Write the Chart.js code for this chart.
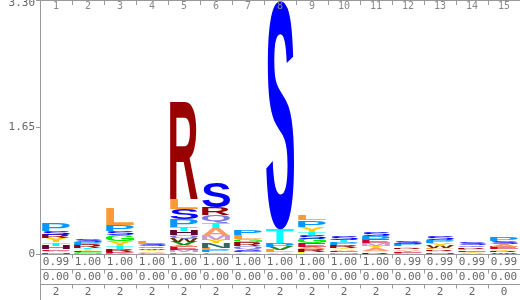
<!DOCTYPE html>
<html><head><meta charset="utf-8">
<script src="https://cdn.jsdelivr.net/npm/chart.js@4/dist/chart.umd.min.js"></script>
<style>html,body{margin:0;padding:0;background:#fff}#wrap{width:520px;height:300px}</style>
</head><body><div id="wrap"><canvas id="c" width="520" height="300"></canvas></div>
<script>
const positions = ['1','2','3','4','5','6','7','8','9','10','11','12','13','14','15'];
const yTicks = [0, 1.65, 3.30];
const yTickLabels = ['0', '1.65', '3.30'];
const row1 = ['0.99','1.00','1.00','1.00','1.00','1.00','1.00','1.00','1.00','1.00','1.00','0.99','0.99','0.99','0.99'];
const row2 = ['0.00','0.00','0.00','0.00','0.00','0.00','0.00','0.00','0.00','0.00','0.00','0.00','0.00','0.00','0.00'];
const row3 = ['2','2','2','2','2','2','2','2','2','2','2','2','2','2','0'];
// letters per position, bottom to top
const letters = [
  'NAEHTYRSP',
  'MGEYTRPS',
  'KERTYGSPL',
  'GAYWQSL',
  'KMEAVWQHTPSLR',
  'GPLNYMATQRS',
  'AESQRGLP',
  'ALVPTS',
  'CRAEGSTYPL',
  'MEAYRPTS',
  'RCAYMEPS',
  'LETARYPS',
  'NARLWYPS',
  'AYELRQS',
  'WRYEASP'
];
const heights = [
  [0.02,0.02,0.02,0.05,0.04,0.06,0.04,0.05,0.10],
  [0.01,0.015,0.015,0.02,0.02,0.04,0.04,0.04],
  [0.015,0.015,0.03,0.04,0.07,0.08,0.05,0.08,0.22],
  [0.015,0.02,0.02,0.02,0.025,0.03,0.03],
  [0.02,0.03,0.04,0.025,0.04,0.04,0.05,0.06,0.05,0.10,0.13,0.13,1.26],
  [0.02,0.03,0.03,0.06,0.04,0.06,0.10,0.07,0.10,0.10,0.32],
  [0.02,0.02,0.02,0.04,0.05,0.04,0.05,0.06],
  [0.02,0.03,0.04,0.05,0.18,2.97],
  [0.03,0.03,0.03,0.05,0.06,0.05,0.03,0.07,0.09,0.065],
  [0.02,0.02,0.02,0.02,0.03,0.04,0.03,0.05],
  [0.02,0.02,0.04,0.03,0.03,0.04,0.05,0.05],
  [0.01,0.015,0.015,0.02,0.02,0.02,0.03,0.04],
  [0.02,0.02,0.02,0.02,0.03,0.03,0.04,0.05],
  [0.015,0.015,0.02,0.02,0.02,0.03,0.04],
  [0.02,0.02,0.02,0.03,0.04,0.04,0.05]
];
const letterColors = {
  S:'#0000ff', R:'#990000', L:'#ff9933', P:'#0099ff', T:'#00ffff', H:'#660033',
  Q:'#7777dd', A:'#ff9966', M:'#cc99cc', Y:'#ffcc00', G:'#00ee00', N:'#336666',
  V:'#228822', W:'#663300', E:'#cc0033', C:'#ffff00', K:'#dd6677', D:'#ff0000'
};
const totals = heights.map(h => h.reduce((a, b) => a + b, 0));

function drawGlyph(ctx, ch, left, top, w, h, color) {
  if (h <= 0 || w <= 0) return;
  ctx.save();
  ctx.font = 'bold 100px "Liberation Sans"';
  const m = ctx.measureText(ch);
  const gw = m.actualBoundingBoxLeft + m.actualBoundingBoxRight;
  const gh = m.actualBoundingBoxAscent + m.actualBoundingBoxDescent;
  ctx.translate(left, top);
  ctx.scale(w / gw, h / gh);
  ctx.fillStyle = color;
  ctx.textAlign = 'left';
  ctx.textBaseline = 'alphabetic';
  ctx.fillText(ch, m.actualBoundingBoxLeft, m.actualBoundingBoxAscent);
  ctx.restore();
}

const logoPlugin = {
  id: 'logo',
  afterDatasetsDraw(chart) {
    const {ctx, scales: {x, y}} = chart;
    const colW = x.getPixelForValue(1) - x.getPixelForValue(0);
    letters.forEach((col, i) => {
      const cx = x.getPixelForValue(i);
      let base = 0;
      col.split('').forEach((ch, j) => {
        const hv = heights[i][j];
        const yb = y.getPixelForValue(base);
        const yt = y.getPixelForValue(base + hv);
        drawGlyph(ctx, ch, cx - colW * 0.44, yt, colW * 0.88, yb - yt, letterColors[ch] || '#888');
        base += hv;
      });
    });
  },
  afterDraw(chart) {
    const {ctx, scales: {x, y}, chartArea} = chart;
    const colW = x.getPixelForValue(1) - x.getPixelForValue(0);
    const L = chartArea.left, R = chartArea.right, T = chartArea.top, B = chartArea.bottom;
    ctx.save();
    ctx.strokeStyle = '#999';
    ctx.lineWidth = 1;
    // left axis line down to bottom
    ctx.beginPath();
    ctx.moveTo(L + 0.5, T); ctx.lineTo(L + 0.5, chart.height);
    ctx.stroke();
    // top line + ticks
    ctx.beginPath();
    ctx.moveTo(L, T + 0.5); ctx.lineTo(R, T + 0.5);
    for (let i = 0; i < positions.length - 1; i++) {
      const bx = Math.round(x.getPixelForValue(i) + colW / 2) + 0.5;
      ctx.moveTo(bx, T); ctx.lineTo(bx, T + 5);
    }
    ctx.stroke();
    // y ticks and labels
    ctx.fillStyle = '#666';
    ctx.font = '11px "DejaVu Sans Mono"';
    ctx.textAlign = 'right';
    ctx.textBaseline = 'middle';
    yTicks.forEach((v, k) => {
      const py = Math.round(y.getPixelForValue(v)) + 0.5;
      ctx.beginPath(); ctx.moveTo(L - 4, py); ctx.lineTo(L, py); ctx.stroke();
      ctx.fillText(yTickLabels[k], L - 5, Math.max(py, 3));
    });
    // top position labels
    ctx.fillStyle = '#888';
    ctx.font = '10px "DejaVu Sans Mono"';
    ctx.textAlign = 'center';
    positions.forEach((p, i) => ctx.fillText(p, x.getPixelForValue(i), T + 6));
    // table
    const rows = [row1, row2, row3];
    const rowH = 15;
    ctx.font = '11px "DejaVu Sans Mono"';
    ctx.fillStyle = '#666';
    rows.forEach((row, r) => {
      const ly = Math.round(B + r * rowH) + 0.5;
      ctx.beginPath();
      ctx.moveTo(L, ly); ctx.lineTo(R, ly);
      for (let i = 0; i < positions.length - 1; i++) {
        const bx = Math.round(x.getPixelForValue(i) + colW / 2) + 0.5;
        ctx.moveTo(bx, ly); ctx.lineTo(bx, ly + 4);
      }
      ctx.stroke();
      row.forEach((t, i) => ctx.fillText(t, x.getPixelForValue(i), B + r * rowH + 8.5));
    });
    ctx.restore();
  }
};

new Chart(document.getElementById('c'), {
  type: 'bar',
  data: {
    labels: positions,
    datasets: [{ data: totals, backgroundColor: 'rgba(0,0,0,0)', borderWidth: 0 }]
  },
  options: {
    responsive: false,
    animation: false,
    devicePixelRatio: 1,
    layout: { padding: { left: 40, right: 0, top: 0, bottom: 46 } },
    scales: {
      x: { display: false },
      y: { display: false, min: 0, max: 3.3 }
    },
    plugins: { legend: { display: false }, tooltip: { enabled: false } }
  },
  plugins: [logoPlugin]
});
</script>
</body></html>
